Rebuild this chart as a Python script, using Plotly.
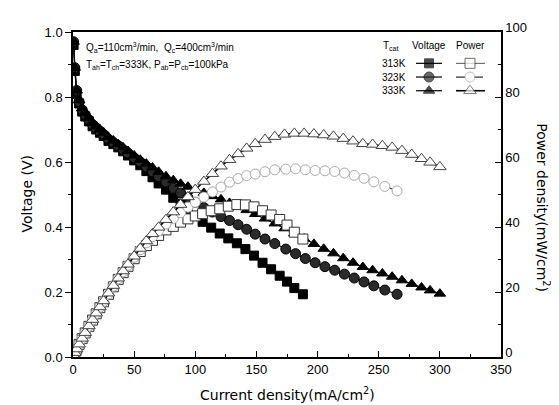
import plotly.graph_objects as go

# ---------------- data ----------------
cur_313 = [0.5, 1.5, 3, 5, 7.5, 10, 13, 16, 19, 22, 25, 29, 33, 37, 41, 45, 50, 55, 60, 65, 70, 76, 82, 88, 94, 100,
           106, 113, 120, 127, 134, 141, 148, 155, 162, 169, 175, 181, 188]
volt_313 = [0.96, 0.88, 0.81, 0.78, 0.755, 0.74, 0.725, 0.71, 0.70, 0.69, 0.68, 0.665, 0.655, 0.645, 0.633, 0.62, 0.605,
            0.59, 0.572, 0.553, 0.534, 0.515, 0.49, 0.472, 0.452, 0.434,
            0.416, 0.398, 0.38, 0.365, 0.35, 0.332, 0.312, 0.29, 0.27, 0.25, 0.232, 0.212, 0.193]
pow_313 = [0.48, 1.32, 2.43, 3.9, 5.66, 7.4, 9.43, 11.36, 13.3, 15.18, 17.0, 19.29, 21.6, 23.9, 25.95, 27.9, 30.25,
           32.45, 34.3, 35.9, 37.4, 39.1, 40.2, 41.5, 42.5, 43.4,
           44.1, 45.0, 45.6, 46.4, 46.9, 46.8, 46.2, 45.0, 43.7, 42.3, 40.6, 38.4, 36.3]

cur_323 = [0.5, 1.5, 3, 5, 7.5, 10, 13, 16, 19, 22, 25, 29, 33, 37, 41, 45, 50, 55, 60, 65, 70, 76, 82, 88, 94, 100,
           107, 114, 121, 128, 135, 142, 149, 157, 165, 174, 182, 190, 198, 206, 214, 222, 230, 238, 246, 255, 265]
volt_323 = [0.97, 0.89, 0.82, 0.785, 0.76, 0.745, 0.73, 0.715, 0.705, 0.695, 0.685, 0.67, 0.66, 0.65, 0.638, 0.627,
            0.613, 0.60, 0.585, 0.57, 0.555, 0.538, 0.52, 0.505, 0.49, 0.476,
            0.46, 0.446, 0.432, 0.42, 0.407, 0.393, 0.378, 0.363, 0.349, 0.332, 0.318, 0.303, 0.29, 0.278, 0.267,
            0.255, 0.243, 0.231, 0.219, 0.206, 0.193]
pow_323 = [0.49, 1.34, 2.46, 3.93, 5.7, 7.45, 9.49, 11.44, 13.4, 15.29, 17.1, 19.4, 21.8, 24.05, 26.2, 28.2, 30.65,
           33.0, 35.1, 37.05, 38.85, 40.9, 42.6, 44.4, 46.1, 47.6,
           49.2, 50.8, 52.3, 53.8, 54.9, 55.8, 56.3, 57.0, 57.6, 57.8, 57.9, 57.6, 57.4, 57.3, 57.1,
           56.6, 55.9, 55.0, 53.9, 52.5, 51.1]

cur_333 = [0.5, 1.5, 3, 5, 7.5, 10, 13, 16, 19, 22, 25, 29, 33, 37, 41, 45, 50, 55, 60, 65, 70, 76, 82, 88, 94, 100,
           107, 114, 121, 128, 135, 142, 149, 157, 165, 173, 181, 189, 197, 205, 213, 221, 229, 237, 245, 253, 261,
           269, 277, 285, 292, 300]
volt_333 = [0.97, 0.89, 0.82, 0.79, 0.765, 0.75, 0.735, 0.72, 0.71, 0.70, 0.69, 0.677, 0.666, 0.655, 0.645, 0.634,
            0.62, 0.607, 0.595, 0.583, 0.57, 0.556, 0.544, 0.533, 0.524, 0.515,
            0.505, 0.495, 0.485, 0.474, 0.463, 0.452, 0.44, 0.426, 0.411, 0.396, 0.38, 0.364, 0.348, 0.333, 0.319,
            0.304, 0.29, 0.277, 0.267, 0.257, 0.247, 0.236, 0.225, 0.214, 0.205, 0.195]
pow_333 = [0.49, 1.34, 2.46, 3.95, 5.74, 7.5, 9.56, 11.52, 13.49, 15.4, 17.25, 19.63, 21.98, 24.24, 26.45, 28.53,
           31.0, 33.39, 35.7, 37.9, 39.9, 42.26, 44.6, 46.9, 49.26, 51.5,
           54.0, 56.4, 58.7, 60.7, 62.5, 64.2, 65.6, 66.9, 67.8, 68.5, 68.8, 68.8, 68.6, 68.3, 67.9,
           67.2, 66.4, 65.6, 65.4, 65.0, 64.5, 63.5, 62.3, 61.0, 59.9, 58.5]

temps = ["313K", "323K", "333K"]
x_ticks = [0, 50, 100, 150, 200, 250, 300, 350]
yl_ticks = [0.0, 0.2, 0.4, 0.6, 0.8, 1.0]
yr_ticks = [0, 20, 40, 60, 80, 100]

# ---------------- styles ----------------
TICKF = dict(family="Liberation Sans, Arial", size=13, color="black")
TITLEF = dict(family="DejaVu Sans, Verdana", size=14, color="black")
SMALLF = dict(family="Liberation Sans, Arial", size=10, color="black")

v_style = [
    dict(symbol="square", size=9, color="black", line=dict(color="black", width=1)),
    dict(symbol="circle", size=10, color="#2a2a2a", line=dict(color="black", width=1)),
    dict(symbol="triangle-up", size=10, color="black", line=dict(color="black", width=1)),
]
p_style = [
    dict(symbol="square", size=10, color="white", line=dict(color="#333333", width=1)),
    dict(symbol="circle", size=10, color="white", line=dict(color="#aaaaaa", width=1)),
    dict(symbol="triangle-up", size=11, color="white", line=dict(color="#444444", width=1)),
]
p_line = [
    dict(color="#555555", width=1),
    dict(color="#333333", width=1.2, dash="dash"),
    dict(color="black", width=1.6),
]

fig = go.Figure()

curs = [cur_313, cur_323, cur_333]
volts = [volt_313, volt_323, volt_333]
pows = [pow_313, pow_323, pow_333]

for i in range(3):
    fig.add_trace(go.Scatter(x=curs[i], y=pows[i], mode="lines+markers", yaxis="y2",
                             line=p_line[i], marker=p_style[i], showlegend=False, name=temps[i] + " power"))
for i in range(3):
    fig.add_trace(go.Scatter(x=curs[i], y=volts[i], mode="lines+markers",
                             line=dict(color="black", width=1.2), marker=v_style[i],
                             showlegend=False, name=temps[i] + " voltage"))

# ---------------- custom grid legend on an invisible overlay axis ----------------
PL, PR, PT, PB = 65, 493, 17, 349
def px2x(px):
    return (px - PL) / (PR - PL)
def py2y(py):
    return (PB - py) / (PB - PT)

row_y = [49, 63, 77]
for i in range(3):
    yy = py2y(row_y[i])
    fig.add_trace(go.Scatter(x=[px2x(408), px2x(421), px2x(434)], y=[yy, yy, yy], xaxis="x3", yaxis="y3",
                             mode="lines+markers", line=dict(color="black", width=1.2),
                             marker=dict(v_style[i], size=[0, v_style[i]["size"], 0]),
                             showlegend=False, hoverinfo="skip"))
    fig.add_trace(go.Scatter(x=[px2x(448), px2x(462), px2x(477)], y=[yy, yy, yy], xaxis="x3", yaxis="y3",
                             mode="lines+markers", line=p_line[i],
                             marker=dict(p_style[i], size=[0, p_style[i]["size"], 0]),
                             showlegend=False, hoverinfo="skip"))

annotations = []
for i in range(3):
    annotations.append(dict(x=px2x(386), y=py2y(row_y[i]), xref="x3", yref="y3", text=temps[i],
                            showarrow=False, font=SMALLF, xanchor="center", yanchor="middle"))
annotations += [
    dict(x=px2x(383), y=py2y(31), xref="x3", yref="y3", text="T<sub>cat</sub>", showarrow=False,
         font=SMALLF, xanchor="center", yanchor="middle"),
    dict(x=px2x(421), y=py2y(31), xref="x3", yref="y3", text="Voltage", showarrow=False,
         font=SMALLF, xanchor="center", yanchor="middle"),
    dict(x=px2x(462), y=py2y(31), xref="x3", yref="y3", text="Power", showarrow=False,
         font=SMALLF, xanchor="center", yanchor="middle"),
    dict(x=px2x(76), y=py2y(33), xref="x3", yref="y3",
         text="Q<sub>a</sub>=110cm<sup>3</sup>/min,  Q<sub>c</sub>=400cm<sup>3</sup>/min",
         showarrow=False, font=SMALLF, xanchor="left", yanchor="middle"),
    dict(x=px2x(76), y=py2y(51), xref="x3", yref="y3",
         text="T<sub>ah</sub>=T<sub>ch</sub>=333K, P<sub>ab</sub>=P<sub>cb</sub>=100kPa",
         showarrow=False, font=SMALLF, xanchor="left", yanchor="middle"),
    # axis titles
    dict(x=0.5, y=-38 / (PB - PT), xref="paper", yref="paper", text="Current density(mA/cm<sup>2</sup>)",
         showarrow=False, font=TITLEF, xanchor="center", yanchor="middle"),
    dict(x=-47 / (PR - PL), y=0.5, xref="paper", yref="paper", text="Voltage (V)", textangle=-90,
         showarrow=False, font=TITLEF, xanchor="center", yanchor="middle"),
    dict(x=1 + 42 / (PR - PL), y=py2y(196), xref="paper", yref="paper",
         text="Power density(mW/cm<sup>2</sup>)", textangle=90,
         showarrow=False, font=TITLEF, xanchor="center", yanchor="middle"),
]

axis_common = dict(showgrid=False, zeroline=False, showline=True, linecolor="black", linewidth=1.5,
                   tickfont=TICKF, tickcolor="black", tickwidth=1.2)

fig.update_layout(
    width=559, height=405,
    margin=dict(l=PL, r=559 - PR, t=PT, b=405 - PB),
    paper_bgcolor="white", plot_bgcolor="white",
    xaxis=dict(axis_common, range=[0, 350], tickvals=x_ticks, ticktext=[str(v) for v in x_ticks],
               ticks="inside", ticklen=6, mirror=True,
               minor=dict(dtick=25, ticks="inside", ticklen=3, tickcolor="black")),
    yaxis=dict(axis_common, range=[0, 1], tickvals=yl_ticks, ticktext=["%.1f" % v for v in yl_ticks],
               ticks="outside", ticklen=6,
               minor=dict(dtick=0.1, ticks="outside", ticklen=3, tickcolor="black")),
    yaxis2=dict(axis_common, range=[0, 100], tickvals=yr_ticks, ticktext=[str(v) for v in yr_ticks],
                ticks="inside", ticklen=6, overlaying="y", side="right", ticklabelshift=-5,
                minor=dict(dtick=10, ticks="inside", ticklen=3, tickcolor="black")),
    xaxis3=dict(range=[0, 1], visible=False, overlaying="x", domain=[0, 1]),
    yaxis3=dict(range=[0, 1], visible=False, overlaying="y"),
    annotations=annotations,
)

fig.write_html("out.html")
